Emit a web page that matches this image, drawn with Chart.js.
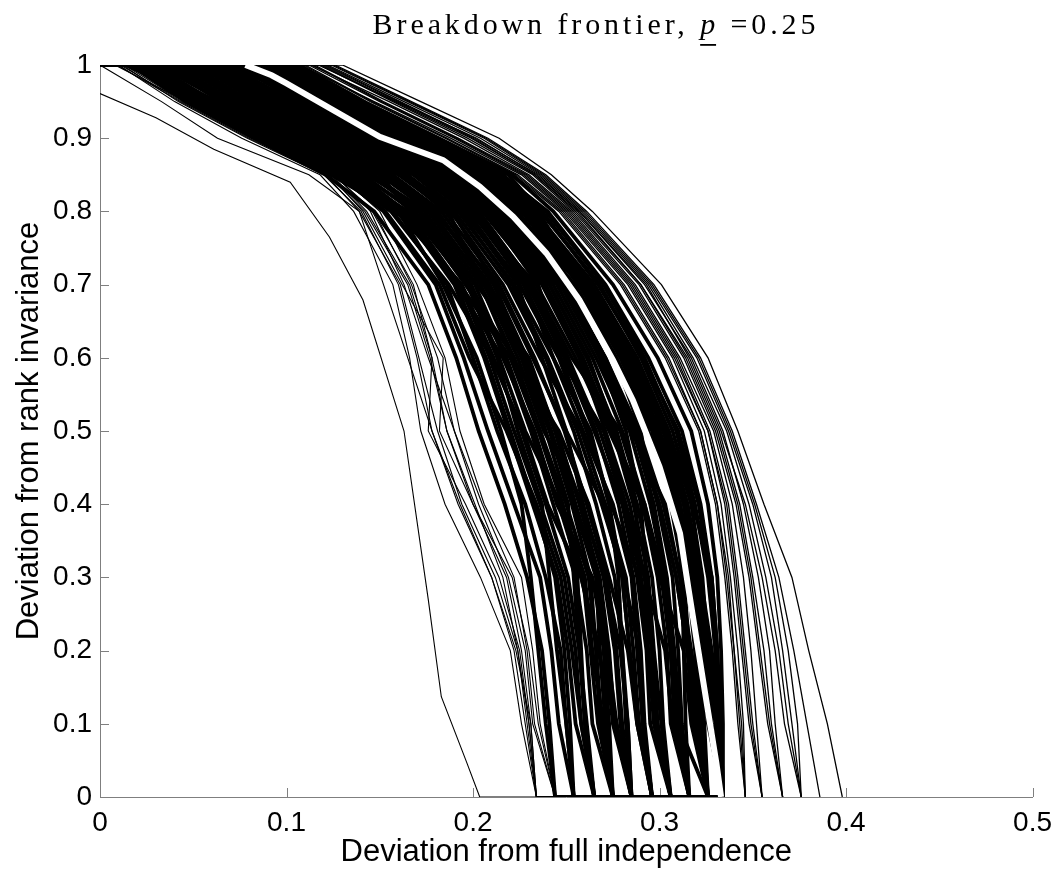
<!DOCTYPE html>
<html>
<head>
<meta charset="utf-8">
<title>Breakdown frontier</title>
<script src="https://cdn.jsdelivr.net/npm/chart.js@4.4.1/dist/chart.umd.min.js"></script>
<style>
	html, body { margin: 0; padding: 0; background: #fff; }
	#wrap { width: 1061px; height: 878px; }
</style>
</head>
<body>
<div id="wrap"><canvas id="frontier_chart" width="1061" height="878"></canvas></div>
<script>
// deviation from rank invariance, the levels where every bootstrap frontier is read
const yLevels = [1, 0.95, 0.9, 0.85, 0.8, 0.7, 0.6, 0.5, 0.4, 0.3, 0.2, 0.1, 0];
// frontiers run along zero up to the end of the grid
const gridEndX = 0.334;

const xTicks = [0, 0.1, 0.2, 0.3, 0.4, 0.5];
const yTicks = [0, 0.1, 0.2, 0.3, 0.4, 0.5, 0.6, 0.7, 0.8, 0.9, 1];

// deviation from full independence at each y level (first value: where it leaves y=1)
const coreX = [
	[.016,.046,.083,.121,.147,.176,.191,.203,.217,.229,.237,.241,.244],
	[.025,.054,.084,.124,.157,.186,.200,.213,.228,.239,.247,.250,.254],
	[.014,.056,.093,.131,.159,.194,.211,.226,.239,.251,.257,.260,.265],
	[.034,.065,.101,.133,.160,.184,.202,.215,.226,.231,.235,.239,.244],
	[.023,.063,.103,.141,.168,.196,.222,.236,.250,.262,.266,.269,.275],
	[.043,.075,.112,.150,.166,.197,.213,.224,.237,.241,.245,.250,.254],
	[.032,.073,.110,.152,.178,.206,.224,.238,.259,.270,.276,.279,.285],
	[.052,.084,.122,.160,.187,.204,.222,.236,.248,.256,.258,.260,.265],
	[.041,.082,.120,.162,.185,.214,.233,.249,.261,.272,.277,.280,.285],
	[.061,.094,.130,.163,.188,.216,.236,.258,.271,.282,.286,.289,.296],
	[.050,.092,.132,.170,.197,.225,.246,.261,.274,.289,.294,.297,.306],
	[.070,.101,.133,.172,.195,.224,.237,.250,.259,.266,.268,.271,.275],
	[.059,.103,.140,.180,.205,.237,.257,.271,.284,.292,.296,.298,.306],
	[.068,.104,.142,.182,.207,.235,.247,.262,.273,.280,.284,.288,.296],
	[.077,.111,.150,.183,.208,.238,.258,.274,.292,.302,.306,.308,.316],
	[.070,.113,.152,.190,.214,.245,.266,.284,.295,.303,.307,.310,.326],
	[.079,.114,.153,.192,.216,.255,.277,.296,.306,.313,.315,.318,.326],
	[.088,.122,.161,.199,.224,.254,.268,.282,.290,.293,.296,.299,.306],
	[.086,.120,.159,.201,.226,.257,.279,.297,.307,.314,.322,.326,.334],
	[.095,.130,.169,.209,.233,.265,.288,.305,.317,.323,.326,.328,.334],
	[.097,.132,.171,.208,.232,.258,.276,.290,.296,.302,.306,.309,.316],
	[.104,.140,.179,.219,.236,.268,.290,.307,.318,.328,.331,.333,.334],
	[.106,.141,.181,.221,.243,.275,.299,.317,.326,.331,.333,.334,.334],
	[.031,.066,.104,.143,.176,.204,.221,.246,.262,.273,.283,.288,.296],
	[.044,.076,.113,.153,.179,.213,.232,.250,.270,.280,.284,.289,.296],
	[.053,.085,.123,.163,.194,.227,.247,.270,.282,.292,.303,.307,.316],
	[.062,.095,.133,.173,.198,.234,.255,.273,.291,.300,.313,.317,.326],
	[.067,.100,.139,.179,.213,.247,.268,.285,.303,.311,.316,.319,.326],
	[.080,.110,.149,.189,.223,.257,.280,.294,.308,.320,.325,.327,.334],
	[.089,.123,.162,.202,.231,.263,.287,.304,.315,.321,.327,.332,.334],
	[.026,.057,.094,.134,.165,.193,.220,.235,.248,.260,.264,.270,.275],
	[.017,.047,.090,.130,.156,.187,.210,.227,.240,.258,.267,.277,.285],
	[.040,.072,.100,.140,.169,.198,.214,.228,.247,.259,.263,.267,.275],
	[.058,.091,.124,.164,.189,.212,.226,.239,.251,.254,.257,.261,.265],
	[.076,.105,.143,.178,.199,.228,.243,.263,.273,.278,.280,.282,.285],
	[.085,.119,.154,.188,.211,.239,.259,.275,.286,.294,.297,.301,.306],
	[.098,.128,.158,.197,.221,.249,.270,.286,.297,.304,.308,.311,.316],
	[.102,.134,.172,.211,.235,.259,.281,.298,.309,.315,.319,.321,.326],
	[.049,.081,.114,.155,.181,.208,.227,.245,.257,.268,.273,.276,.285],
	[.066,.097,.135,.174,.200,.229,.249,.265,.280,.288,.293,.295,.306],
	[.030,.058,.097,.139,.163,.191,.216,.233,.245,.264,.271,.275,.285],
	[.021,.049,.087,.127,.153,.182,.198,.218,.234,.247,.253,.258,.265],
	[.057,.090,.128,.176,.203,.232,.253,.279,.291,.299,.304,.306,.316],
	[.081,.117,.157,.196,.222,.252,.274,.302,.313,.319,.323,.327,.334],
	[.099,.137,.176,.207,.230,.262,.285,.303,.310,.313,.316,.320,.326],
	[.038,.068,.106,.146,.174,.202,.230,.244,.255,.267,.272,.277,.285],
	[.072,.107,.145,.186,.209,.241,.262,.276,.287,.290,.294,.298,.306],
	[.090,.127,.166,.205,.228,.260,.284,.300,.308,.312,.313,.314,.316],
	[.019,.051,.089,.128,.152,.180,.195,.208,.222,.236,.242,.246,.254],
	[.028,.060,.097,.136,.162,.190,.206,.219,.232,.245,.251,.255,.265],
	[.036,.069,.106,.145,.171,.199,.217,.231,.243,.255,.261,.264,.275],
	[.046,.078,.115,.155,.180,.209,.228,.242,.254,.266,.270,.273,.275],
	[.055,.087,.125,.165,.190,.219,.239,.254,.266,.276,.280,.283,.285],
	[.064,.097,.136,.175,.201,.230,.250,.266,.278,.286,.290,.292,.296],
	[.073,.108,.146,.185,.210,.241,.261,.277,.288,.296,.300,.302,.306],
	[.083,.116,.155,.194,.219,.249,.271,.288,.299,.307,.310,.312,.316],
	[.092,.126,.165,.204,.229,.260,.283,.299,.310,.317,.320,.322,.326],
	[.101,.136,.175,.215,.240,.271,.294,.312,.322,.328,.331,.332,.334],
	[.093,.129,.168,.206,.230,.262,.286,.303,.314,.320,.324,.327,.334],
	[.084,.124,.163,.203,.228,.260,.282,.300,.311,.318,.321,.324,.326],
	[.022,.053,.091,.133,.161,.193,.209,.222,.236,.249,.255,.258,.265],
	[.029,.061,.099,.138,.164,.191,.207,.220,.233,.244,.249,.252,.254],
	[.037,.070,.108,.147,.172,.201,.218,.232,.246,.258,.268,.272,.275],
	[.047,.079,.117,.157,.183,.211,.229,.244,.258,.271,.279,.283,.285],
	[.056,.088,.127,.168,.193,.221,.240,.256,.269,.281,.289,.291,.296],
	[.065,.099,.138,.178,.203,.232,.251,.268,.281,.290,.296,.299,.306],
	[.074,.109,.148,.187,.212,.243,.264,.280,.292,.301,.306,.309,.316],
	[.087,.118,.156,.195,.218,.247,.269,.286,.300,.309,.315,.319,.326],
	[.103,.138,.177,.216,.239,.270,.292,.309,.319,.326,.330,.332,.334],
	[.096,.133,.173,.213,.237,.267,.291,.310,.321,.327,.330,.333,.334],
	[.045,.077,.116,.150,.177,.207,.226,.241,.253,.263,.266,.268,.275],
	[.063,.096,.131,.169,.192,.222,.243,.259,.275,.285,.288,.291,.296],
	[.090,.125,.163,.203,.227,.258,.280,.298,.311,.319,.325,.330,.334],
	[.094,.128,.166,.206,.229,.260,.282,.300,.313,.321,.327,.331,.334],
	[.098,.131,.170,.210,.233,.263,.285,.302,.315,.322,.328,.333,.334],
	[.075,.110,.147,.190,.214,.248,.270,.287,.300,.309,.315,.322,.326],
	[.082,.115,.152,.192,.216,.250,.271,.289,.302,.311,.317,.323,.326],
];

const rightX = [
	[.108,.143,.183,.222,.246,.279,.303,.321,.330,.335,.339,.342,.346],
	[.110,.146,.186,.224,.248,.281,.305,.322,.331,.337,.340,.343,.346],
	[.107,.147,.188,.226,.249,.283,.307,.324,.333,.338,.342,.345,.346],
	[.109,.145,.185,.223,.247,.280,.304,.322,.331,.336,.340,.344,.346],
	[.112,.150,.190,.227,.250,.284,.308,.326,.335,.340,.344,.348,.355],
	[.115,.152,.192,.229,.252,.286,.310,.327,.337,.342,.346,.350,.355],
	[.113,.155,.195,.230,.253,.287,.311,.329,.339,.345,.349,.352,.355],
	[.114,.151,.191,.228,.251,.285,.309,.326,.336,.341,.345,.349,.355],
	[.118,.157,.197,.232,.254,.289,.313,.330,.341,.348,.353,.358,.366],
	[.120,.160,.200,.233,.256,.290,.315,.332,.343,.350,.356,.360,.366],
	[.117,.159,.202,.234,.257,.292,.317,.334,.345,.353,.359,.362,.366],
	[.119,.158,.199,.233,.255,.290,.314,.331,.342,.349,.354,.359,.366],
	[.122,.163,.204,.236,.258,.294,.318,.336,.348,.357,.364,.369,.376],
	[.124,.165,.206,.237,.259,.295,.320,.337,.350,.360,.366,.371,.376],
	[.121,.161,.201,.235,.257,.293,.316,.333,.346,.355,.362,.367,.376],
	[.125,.166,.207,.238,.260,.296,.321,.338,.351,.362,.369,.374,.376],
	[.126,.167,.208,.239,.261,.297,.322,.339,.352,.364,.372,.379,.386],
	[.130,.172,.214,.242,.264,.301,.326,.342,.356,.371,.380,.390,.398],
];

const leftX = [
	[.010,.040,.076,.118,.136,.157,.166,.172,.185,.204,.220,.226,.234],
	[.012,.042,.079,.120,.140,.160,.170,.178,.192,.210,.222,.228,.234],
	[.008,.046,.083,.124,.143,.166,.178,.176,.196,.214,.225,.230,.234],
	[.018,.048,.084,.122,.146,.168,.178,.186,.200,.218,.226,.231,.234],
	[.014,.050,.086,.126,.145,.163,.176,.190,.205,.222,.229,.233,.244],
	[.020,.052,.088,.128,.150,.170,.185,.193,.206,.226,.232,.236,.244],
	[.011,.044,.081,.123,.141,.162,.184,.182,.200,.221,.230,.235,.244],
	[.013,.045,.082,.122,.142,.165,.177,.186,.201,.216,.224,.229,.234],
	[.016,.047,.085,.125,.147,.167,.181,.190,.203,.219,.228,.232,.244],
	[.009,.043,.080,.121,.139,.161,.171,.181,.194,.212,.224,.230,.234],
	[0,.033,.063,.112,.139,.152,.165,.178,.193,.210,.223,.231,.234],
];

// the one frontier that starts below 1
const outlierX = [0, 0.030, 0.061, 0.102, 0.123, 0.141, 0.163, 0.176, 0.183, 0.1965, 0.2036];
const outlierY = [0.961, 0.928, 0.885, 0.84, 0.765, 0.679, 0.5, 0.27, 0.137, 0.048, 0];

// point estimate (white)
const estimateX = [0.078, 0.092, 0.100, 0.150, 0.184, 0.2036, 0.2215, 0.2393, 0.257, 0.275, 0.2857, 0.300, 0.311, 0.3155, 0.3233, 0.3305, 0.333];
const estimateY = [1, 0.986, 0.975, 0.902, 0.870, 0.834, 0.793, 0.743, 0.679, 0.597, 0.542, 0.451, 0.360, 0.285, 0.16, 0.046, 0];

const AXIS_COLOR = '#7f7f7f';
const TICK_LEN = 9;

function frontierPoints(row) {
	let pts = [{x: 0, y: 1}];
	row.forEach((x, i) => pts.push({x: x, y: yLevels[i]}));
	if (row[row.length - 1] < gridEndX) {
		pts.push({x: gridEndX, y: 0});
	}
	return pts;
}

function pairPoints(xs, ys) {
	return xs.map((x, i) => ({x: x, y: ys[i]}));
}

function lineSet(points, color, width, order) {
	return {
		data: points,
		showLine: true,
		borderColor: color,
		backgroundColor: color,
		borderWidth: width,
		pointRadius: 0,
		pointHoverRadius: 0,
		tension: 0,
		order: order,
	};
}

let datasets = [];
datasets.push(lineSet(pairPoints(estimateX, estimateY), '#ffffff', 6, 0));
coreX.forEach(r => datasets.push(lineSet(frontierPoints(r), '#000000', 3.8, 1)));
rightX.forEach(r => datasets.push(lineSet(frontierPoints(r), '#000000', 1.3, 1)));
leftX.forEach(r => datasets.push(lineSet(frontierPoints(r), '#000000', 1.1, 1)));
let outPts = pairPoints(outlierX, outlierY);
outPts.push({x: gridEndX, y: 0});
datasets.push(lineSet(outPts, '#000000', 1.1, 1));

// matlab style ticks pointing into the plot
const innerTicks = {
	id: 'innerTicks',
	beforeDatasetsDraw(chart) {
		const {ctx, chartArea, scales} = chart;
		ctx.save();
		ctx.strokeStyle = AXIS_COLOR;
		ctx.lineWidth = 1;
		ctx.beginPath();
		xTicks.forEach(v => {
			let px = Math.round(scales.x.getPixelForValue(v)) + 0.5;
			ctx.moveTo(px, chartArea.bottom);
			ctx.lineTo(px, chartArea.bottom - TICK_LEN);
		});
		yTicks.forEach(v => {
			let py = Math.round(scales.y.getPixelForValue(v)) + 0.5;
			ctx.moveTo(chartArea.left, py);
			ctx.lineTo(chartArea.left + TICK_LEN, py);
		});
		ctx.stroke();
		ctx.restore();
	}
};

// title with the underlined italic p
const texTitle = {
	id: 'texTitle',
	afterDraw(chart) {
		const ctx = chart.ctx;
		const parts = [
			{text: 'Breakdown frontier, ', style: 'normal'},
			{text: 'p', style: 'italic'},
			{text: ' =0.25', style: ''},
		];
		const family = '30px "Liberation Serif", "Times New Roman", serif';
		ctx.save();
		ctx.fillStyle = '#000';
		ctx.textBaseline = 'alphabetic';
		if ('letterSpacing' in ctx) ctx.letterSpacing = '3.9px';
		let widths = parts.map(p => {
			ctx.font = (p.style === 'italic' ? 'italic ' : '') + family;
			return ctx.measureText(p.text).width;
		});
		let total = widths.reduce((a, b) => a + b, 0);
		let x = 596 - total / 2;
		const baseline = 34;
		parts.forEach((p, i) => {
			ctx.font = (p.style === 'italic' ? 'italic ' : '') + family;
			ctx.fillText(p.text, x, baseline);
			if (p.style === 'italic') {
				ctx.fillRect(x, baseline + 10, widths[i] - 3, 1.8);
			}
			x += widths[i];
		});
		ctx.restore();
	}
};

const fmt = v => String(Math.round(v * 10) / 10);

let chartOptions = {
	responsive: false,
	animation: false,
	events: [],
	layout: {
		padding: {top: 65, right: 28, left: 0, bottom: 0},
	},
	plugins: {
		legend: {display: false},
		tooltip: {enabled: false},
		title: {display: false},
	},
	scales: {
		x: {
			type: 'linear',
			min: 0,
			max: 0.5,
			afterBuildTicks: s => { s.ticks = xTicks.map(v => ({value: v})); },
			afterFit: s => { s.height = 81; },
			grid: {display: false, drawTicks: false},
			border: {display: true, color: AXIS_COLOR, width: 1},
			ticks: {
				color: '#000',
				padding: 9,
				maxRotation: 0,
				font: {family: '"Liberation Sans", Arial, sans-serif', size: 28},
				callback: fmt,
			},
			title: {
				display: true,
				text: 'Deviation from full independence',
				color: '#000',
				font: {family: '"Liberation Sans", Arial, sans-serif', size: 31},
				padding: {top: 0, bottom: 7},
			},
		},
		y: {
			type: 'linear',
			min: 0,
			max: 1,
			afterBuildTicks: s => { s.ticks = yTicks.map(v => ({value: v})); },
			afterFit: s => { s.width = 100; },
			grid: {display: false, drawTicks: false},
			border: {display: true, color: AXIS_COLOR, width: 1},
			ticks: {
				color: '#000',
				padding: 8,
				font: {family: '"Liberation Sans", Arial, sans-serif', size: 28},
				callback: fmt,
			},
			title: {
				display: true,
				text: 'Deviation from rank invariance',
				color: '#000',
				font: {family: '"Liberation Sans", Arial, sans-serif', size: 31},
				padding: {top: 11, bottom: 0},
			},
		},
	},
};

const ctx = document.getElementById('frontier_chart');
let frontierChart = new Chart(ctx, {
	type: 'scatter',
	data: {datasets: datasets},
	options: chartOptions,
	plugins: [innerTicks, texTitle],
});
</script>
</body>
</html>
